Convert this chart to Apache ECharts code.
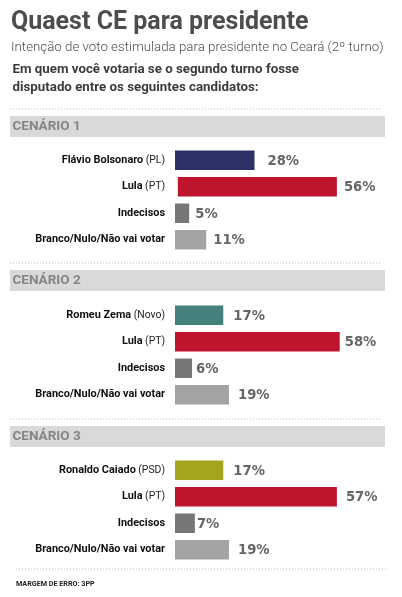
<!DOCTYPE html>
<html><head><meta charset="utf-8">
<style>html,body{margin:0;padding:0;background:#fff}#c{width:402px;height:597px}</style>
<script src="https://cdn.jsdelivr.net/npm/echarts@6/dist/echarts.min.js"></script>
</head><body><div id="c"></div>
<script>
const titleText = 'Quaest CE para presidente';
const subtitleText = 'Intenção de voto estimulada para presidente no Ceará (2º turno)';
const questionLines = ['Em quem você votaria se o segundo turno fosse', 'disputado entre os seguintes candidatos:'];
const footText = 'MARGEM DE ERRO: 3PP';
const scenarioNames = ['CENÁRIO 1', 'CENÁRIO 2', 'CENÁRIO 3'];
const names1 = ['Flávio Bolsonaro|(PL)', 'Lula|(PT)', 'Indecisos|', 'Branco/Nulo/Não vai votar|'];
const names2 = ['Romeu Zema|(Novo)', 'Lula|(PT)', 'Indecisos|', 'Branco/Nulo/Não vai votar|'];
const names3 = ['Ronaldo Caiado|(PSD)', 'Lula|(PT)', 'Indecisos|', 'Branco/Nulo/Não vai votar|'];
const values1 = [28, 56, 5, 11];
const values2 = [17, 58, 6, 19];
const values3 = [17, 57, 7, 19];

const leadColors = ['#2e3068', '#44807c', '#a3a61b'];
const gridTops = [147, 302, 457];
const bandTops = [116, 270, 426];
const ruleYs = [109, 263, 419, 569];
const labelGaps = [[13, 7, 6, 7], [10, 5, 4, 9], [10, 9, 2, 9]];
const startNudge = [[0, 1, 0, 0], [0, 0, 0, 0], [0, 0, 0, 0]];

const allNames = [names1, names2, names3];
const allValues = [values1, values2, values3];
const grids = [], xAxes = [], yAxes = [], series = [], graphic = [];

function text(x, y, t, font, color) {
  graphic.push({type: 'text', x, y, silent: true,
    style: {text: t, font, fill: color, textVerticalAlign: 'middle'}});
}
text(11, 22.5, titleText, '700 25px Roboto', '#4d4d4d');
text(11, 48, subtitleText, '300 13.3px Roboto', '#4f4f4f');
text(12.5, 70, questionLines[0], '700 13.3px Roboto', '#3c3c3c');
text(12.5, 88, questionLines[1], '700 13.3px Roboto', '#3c3c3c');
text(16, 584, footText, '700 7.2px Roboto', '#222222');

ruleYs.forEach((y, i) => {
  const x1 = i === 3 ? 16 : 10, x2 = i === 3 ? 388 : 382;
  graphic.push({type: 'line', silent: true, shape: {x1, y1: y, x2, y2: y},
    style: {stroke: '#bdbdbd', lineWidth: 1, lineDash: [1, 2]}});
});
scenarioNames.forEach((n, i) => {
  graphic.push({type: 'rect', silent: true, z: 0, shape: {x: 10, y: bandTops[i], width: 375, height: 21},
    style: {fill: '#d9d9d9'}});
  text(12.5, bandTops[i] + 11, n, '700 13.5px Roboto', '#858585');
});

allValues.forEach((vals, i) => {
  grids.push({left: 175, top: gridTops[i], width: 213, height: 106, containLabel: false});
  xAxes.push({gridIndex: i, type: 'value', min: 0, max: 75, show: false});
  yAxes.push({gridIndex: i, type: 'category', inverse: true, data: allNames[i],
    axisLine: {show: false}, axisTick: {show: false},
    axisLabel: {margin: 10, align: 'right',
      formatter: v => { const [a, b] = v.split('|'); return '{n|' + a + '}' + (b ? '{p|' + b + '}' : ''); },
      rich: {n: {fontFamily: 'Roboto', fontWeight: 700, fontSize: 10.9, color: '#111111'},
             p: {fontFamily: 'Roboto', fontWeight: 400, fontSize: 10.4, color: '#222222', padding: [0, 0, 0, 2.5]}}}});
  const colors = [leadColors[i], '#be142d', '#777777', '#a3a3a3'];
  series.push({type: 'bar', stack: 's' + i, xAxisIndex: i, yAxisIndex: i, silent: true, barWidth: 19.5,
    itemStyle: {color: 'transparent'}, label: {show: false}, data: startNudge[i]});
  series.push({type: 'bar', stack: 's' + i, xAxisIndex: i, yAxisIndex: i, silent: true, barWidth: 19.5,
    data: vals.map((v, j) => ({value: v, itemStyle: {color: colors[j]},
      label: {show: true, position: 'right', distance: labelGaps[i][j], offset: [0, 1], formatter: '{c}%',
        fontFamily: 'DejaVu Sans', fontWeight: 700, fontSize: 13.2, color: '#666666'}}))});
});

const chart = echarts.init(document.getElementById('c'), null, {renderer: 'canvas'});
chart.setOption({animation: false, backgroundColor: '#ffffff', grid: grids, xAxis: xAxes, yAxis: yAxes, series, graphic});
</script></body></html>
